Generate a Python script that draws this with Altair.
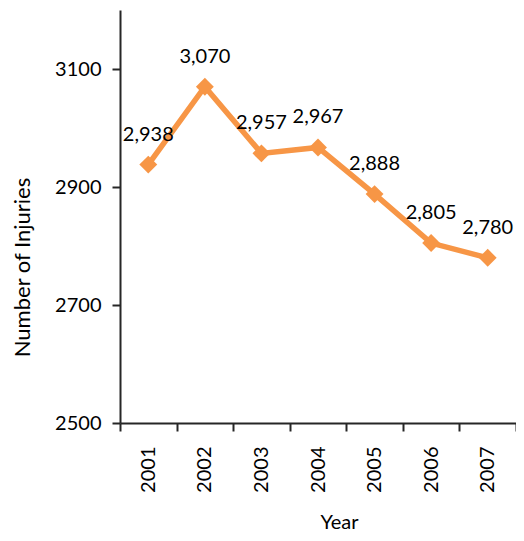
import altair as alt
import pandas as pd

years = ["2001", "2002", "2003", "2004", "2005", "2006", "2007"]
injuries = [2938, 3070, 2957, 2967, 2888, 2805, 2780]
labels = ["2,938", "3,070", "2,957", "2,967", "2,888", "2,805", "2,780"]

df = pd.DataFrame({"Year": years, "Injuries": injuries, "Label": labels})

FONT = "Lato"
ORANGE = "#F79646"
AXIS_C = "#262626"

x = alt.X(
    "Year:N",
    sort=years,
    bandPosition=0.5,
    scale=alt.Scale(type="band", paddingInner=0, paddingOuter=0),
    axis=alt.Axis(
        title="Year",
        labelAngle=270,
        labelAlign="right",
        labelBaseline="middle",
        labelPadding=15,
        tickBand="extent",
        tickSize=8,
        tickWidth=2,
        domainWidth=2,
        tickColor=AXIS_C,
        domainColor=AXIS_C,
        labelColor="#000000",
        labelFontSize=20,
        labelFont=FONT,
        titleFont=FONT,
        titleFontSize=20,
        titleFontWeight="normal",
        titleColor="#000000",
        titleX=219,
        titleY=99,
        titleBaseline="middle",
        titleAlign="center",
    ),
)

y = alt.Y(
    "Injuries:Q",
    scale=alt.Scale(domain=[2500, 3200], nice=False, zero=False),
    axis=alt.Axis(
        title="Number of Injuries",
        values=[2500, 2700, 2900, 3100],
        format="d",
        grid=False,
        tickSize=8,
        tickWidth=2,
        domainWidth=2,
        tickColor=AXIS_C,
        domainColor=AXIS_C,
        labelColor="#000000",
        labelFontSize=20,
        labelFont=FONT,
        labelPadding=11,
        titleFont=FONT,
        titleFontSize=22,
        titleFontWeight="normal",
        titleColor="#000000",
        titleAngle=270,
        titleX=-98,
        titleY=257,
        titleBaseline="middle",
        titleAlign="center",
    ),
)

base = alt.Chart(df)

line = base.mark_line(color=ORANGE, strokeWidth=5.5).encode(x=x, y=y)
pts = base.mark_point(shape="diamond", size=320, filled=True, color=ORANGE, opacity=1).encode(x=x, y=y)
txt = base.mark_text(font=FONT, fontSize=20, color="#000000", dy=-30, baseline="middle").encode(
    x=x, y=y, text="Label:N"
)

chart = (
    alt.layer(line, pts, txt)
    .properties(
        width=396,
        height=413,
        autosize=alt.AutoSizeParams(type="none"),
        padding={"left": 112, "top": 2, "right": 0, "bottom": 110},
    )
    .configure_view(stroke=None)
)

chart.save("out.html", embed_options={"renderer": "svg", "actions": False})
